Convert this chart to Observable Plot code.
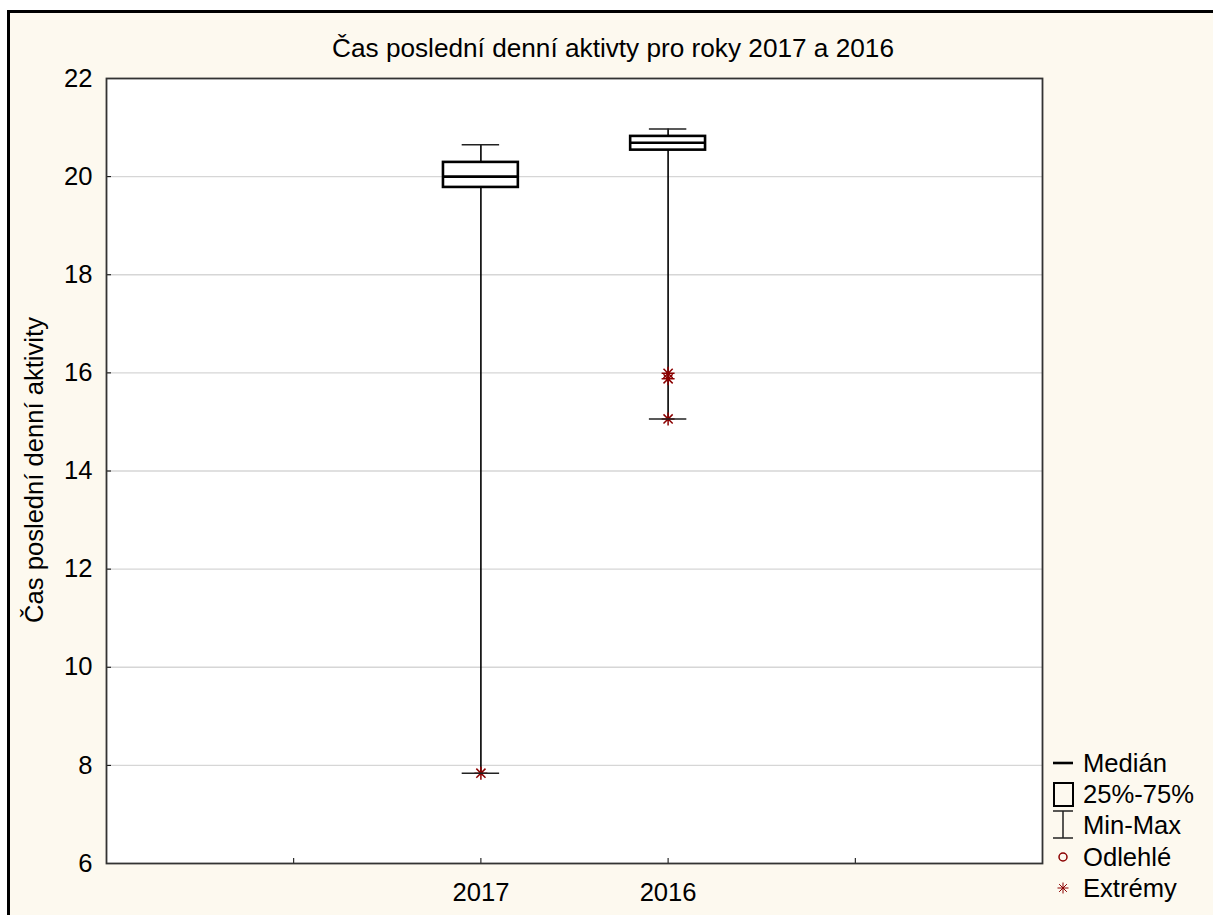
<!DOCTYPE html>
<html>
<head>
<meta charset="utf-8">
<script src="https://cdn.jsdelivr.net/npm/d3@7"></script>
<script src="https://cdn.jsdelivr.net/npm/@observablehq/plot@0.6"></script>
<style>
  html, body { margin: 0; padding: 0; background: #ffffff; }
  #page { position: relative; width: 1213px; height: 915px; overflow: hidden; font-family: "Liberation Sans", Arial, sans-serif; }
  #panel { position: absolute; left: 7px; top: 10px; width: 1230px; height: 930px; background: #fdf9ef; border-left: 3px solid #000; border-top: 3px solid #000; }
  #page svg { position: absolute; left: 0; top: 0; }
</style>
</head>
<body>
<div id="page"><div id="panel"></div></div>
<script>
// Time of the last daily activity, per year (hours)
const years = ["2017", "2016"];
const minima = [7.84, 15.06];
const lowerQuartiles = [19.78, 20.54];
const medians = [20.0, 20.69];
const upperQuartiles = [20.29, 20.82];
const maxima = [20.65, 20.97];

// extreme observations
const extremeYears = ["2017", "2016", "2016", "2016"];
const extremeValues = [7.84, 15.99, 15.88, 15.06];

const yTicks = [6, 8, 10, 12, 14, 16, 18, 20, 22];
const titleText = "Čas poslední denní aktivty pro roky 2017 a 2016";
const yLabelText = "Čas poslední denní aktivity";
const legendLabels = ["Medián", "25%-75%", "Min-Max", "Odlehlé", "Extrémy"];

// categories sit on slots 2 and 3 of a 0..5 axis
const slot = (year) => years.indexOf(year) + 2;
const boxHalf = 0.2, capHalf = 0.1;

const boxes = years.map((year, i) => ({
  year, x: slot(year),
  min: minima[i], q1: lowerQuartiles[i], median: medians[i], q3: upperQuartiles[i], max: maxima[i]
}));
const extremes = extremeYears.map((year, i) => ({ year, value: extremeValues[i] }));

// eight-armed star for extreme values
const star = {
  draw(ctx, size) {
    const r = Math.sqrt(size / Math.PI), d = r * Math.SQRT1_2;
    ctx.moveTo(-r, 0); ctx.lineTo(r, 0);
    ctx.moveTo(0, -r); ctx.lineTo(0, r);
    ctx.moveTo(-d, -d); ctx.lineTo(d, d);
    ctx.moveTo(-d, d); ctx.lineTo(d, -d);
  }
};

const red = "#8b0000";
const fontSize = 25.6;
const chart = Plot.plot({
  width: 1213,
  height: 915,
  marginLeft: 106,
  marginTop: 78,
  marginRight: 171,
  marginBottom: 52,
  style: { background: "transparent", fontSize: `${fontSize}px`, fontFamily: "'Liberation Sans', Arial, sans-serif", color: "#000" },
  x: { domain: [0, years.length + 3] },
  y: { domain: [6, 22] },
  marks: [
    Plot.frame({ fill: "white", stroke: "none" }),
    Plot.gridY(yTicks.slice(1, -1), { stroke: "#d6d6d6", strokeOpacity: 1, strokeWidth: 1.3 }),
    Plot.ruleX(boxes, { x: "x", y1: "min", y2: "max", stroke: "#000", strokeWidth: 1.6 }),
    Plot.ruleY(boxes, { y: "max", x1: d => d.x - capHalf, x2: d => d.x + capHalf, stroke: "#222", strokeWidth: 1.6 }),
    Plot.dot(extremes, { x: d => slot(d.year), y: "value", symbol: star, r: 6.5, stroke: red, strokeWidth: 1.5 }),
    Plot.ruleY(boxes, { y: "min", x1: d => d.x - capHalf, x2: d => d.x + capHalf, stroke: "#222", strokeWidth: 1.6 }),
    Plot.rect(boxes, { x1: d => d.x - boxHalf, x2: d => d.x + boxHalf, y1: "q1", y2: "q3", fill: "white", stroke: "#000", strokeWidth: 2.6 }),
    Plot.ruleY(boxes, { y: "median", x1: d => d.x - boxHalf, x2: d => d.x + boxHalf, stroke: "#000", strokeWidth: 2.6 }),
    Plot.axisY({ ticks: yTicks, tickSize: -5, tickPadding: 19, label: null, fontSize }),
    Plot.axisX({ ticks: [1, 2, 3, 4], tickFormat: t => years[t - 2] ?? "", tickSize: -5, tickPadding: 24, label: null, fontSize }),
    Plot.frame({ stroke: "#333", strokeWidth: 1.8 })
  ]
});
document.getElementById("page").appendChild(chart);

// title, axis label and legend
const overlay = d3.select("#page").append("svg")
  .attr("width", 1213).attr("height", 915)
  .style("font-family", "'Liberation Sans', Arial, sans-serif")
  .style("font-size", `${fontSize}px`);

overlay.append("text").attr("x", 613).attr("y", 57).attr("text-anchor", "middle").style("font-size", "26.2px").text(titleText);
overlay.append("text").attr("transform", "translate(43,470) rotate(-90)").attr("text-anchor", "middle").text(yLabelText);

const lg = overlay.append("g");
const rowY = [763, 794, 825, 857, 888];
const textX = 1083;
legendLabels.forEach((label, i) => {
  lg.append("text").attr("x", textX).attr("y", rowY[i]).attr("dy", "0.36em").text(label);
});
lg.append("line").attr("x1", 1053).attr("x2", 1073).attr("y1", rowY[0]).attr("y2", rowY[0]).attr("stroke", "#000").attr("stroke-width", 2.6);
lg.append("rect").attr("x", 1054).attr("y", rowY[1] - 11).attr("width", 19).attr("height", 23).attr("fill", "none").attr("stroke", "#000").attr("stroke-width", 2);
lg.append("path").attr("d", `M1053,${rowY[2] - 14}H1073M1063,${rowY[2] - 14}V${rowY[2] + 13}M1053,${rowY[2] + 13}H1073`).attr("fill", "none").attr("stroke", "#222").attr("stroke-width", 1.5);
lg.append("circle").attr("cx", 1063).attr("cy", rowY[3]).attr("r", 4).attr("fill", "none").attr("stroke", red).attr("stroke-width", 1.5);
{
  const r = 5.5, d = r * Math.SQRT1_2, cx = 1063, cy = rowY[4];
  lg.append("path").attr("d", `M${cx - r},${cy}H${cx + r}M${cx},${cy - r}V${cy + r}M${cx - d},${cy - d}L${cx + d},${cy + d}M${cx - d},${cy + d}L${cx + d},${cy - d}`)
    .attr("fill", "none").attr("stroke", red).attr("stroke-width", 1);
}
</script>
</body>
</html>
